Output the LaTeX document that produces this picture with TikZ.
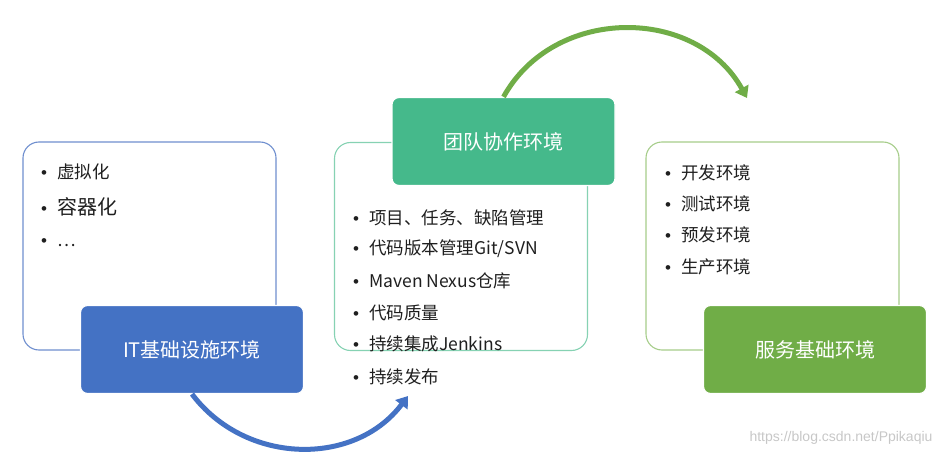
\documentclass[tikz,border=0pt]{standalone}
\usepackage{fontspec}
\setmainfont{Noto Sans CJK SC}
\newfontfamily\markfont{Liberation Sans}
\usetikzlibrary{arrows.meta,positioning}
\definecolor{infrablue}{HTML}{4472C4}
\definecolor{infraline}{HTML}{6F8FCF}
\definecolor{teamteal}{HTML}{45B98B}
\definecolor{teamline}{HTML}{86D2B3}
\definecolor{servgreen}{HTML}{70AD47}
\definecolor{servline}{HTML}{A6CD8A}
\definecolor{itemtext}{HTML}{1F1F1F}

\begin{document}
\begin{tikzpicture}[x=1pt, y=1pt,
    frame/.style={draw=#1, line width=1.1pt, rounded corners=16pt, fill=white,
                  minimum width=253pt, minimum height=208pt, inner sep=0pt},
    head/.style={draw=white, line width=1.2pt, fill=#1, text=white,
                 font=\fontsize{20}{24}\selectfont, rounded corners=7pt,
                 minimum width=223pt, minimum height=88pt, inner sep=0pt},
    item/.style={anchor=west, inner sep=0pt, text=itemtext,
                 font=\fontsize{17.5}{20}\selectfont,
                 execute at begin node={\makebox[0pt]{\markfont\fontsize{17}{20}\selectfont•}\hspace{13pt}}},
    flow/.style={draw=#1, line width=5pt, -{Triangle[length=11pt,width=15pt]}},
    watermark/.style={font=\markfont\fontsize{14}{16}\selectfont, text=black!22},
]
  \useasboundingbox (0,0) rectangle (952,-457);

  % outline boxes
  \node[frame=infraline] (infrabox) at (149.5,-246) {};
  \node[frame=teamline]  (teambox)  at (461,-246.5) {};
  \node[frame=servline]  (servbox)  at (772.5,-246) {};

  % items
  \node[item] (i1) at (44,-172) {虚拟化};
  \node[item, font=\fontsize{20}{24}\selectfont] (i2) at (44,-207) {容器化};
  \node[item] (i3) at (44,-243) {…};

  \node[item] (t1) at (356,-218) {项目、任务、缺陷管理};
  \node[item] (t2) at (356,-249) {代码版本管理Git/SVN};
  \node[item] (t3) at (356,-281) {Maven Nexus仓库};
  \node[item] (t4) at (356,-313) {代码质量};
  \node[item] (t5) at (356,-344) {持续集成Jenkins};
  \node[item] (t6) at (356,-377) {持续发布};

  \node[item] (s1) at (668,-173) {开发环境};
  \node[item] (s2) at (668,-204) {测试环境};
  \node[item] (s3) at (668,-235) {预发环境};
  \node[item] (s4) at (668,-267) {生产环境};

  % filled boxes
  \node[head=infrablue] (infra) at (192,-349.5)   {IT基础设施环境};
  \node[head=teamteal]  (team)  at (503.5,-141.5) {团队协作环境};
  \node[head=servgreen] (serv)  at (815,-349.5)   {服务基础环境};

  % arrows
  \coordinate (greentip) at (747,-98);
  \coordinate (bluetip) at (408,-396);
  \draw[flow=servgreen] (team.north) to[out=61, in=119, looseness=1.1] (greentip);
  \draw[flow=infrablue] (infra.south) to[out=-53, in=233, looseness=1.05] (bluetip);

  \node[watermark] (wm) at (841,-438) {https://blog.csdn.net/Ppikaqiu};
\end{tikzpicture}
\end{document}
